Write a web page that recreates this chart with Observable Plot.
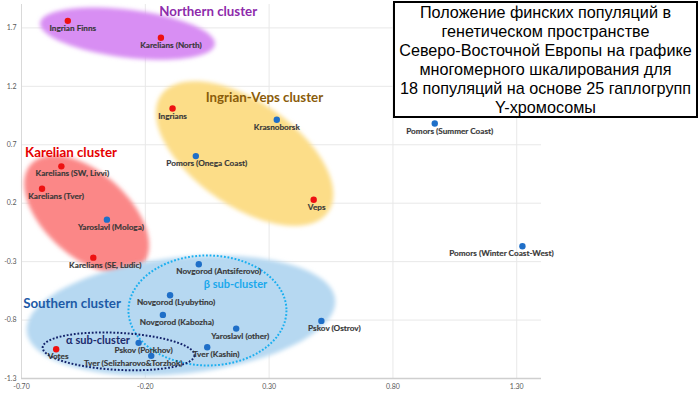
<!DOCTYPE html>
<html>
<head>
<meta charset="utf-8">
<script src="https://cdn.jsdelivr.net/npm/d3@7"></script>
<script src="https://cdn.jsdelivr.net/npm/@observablehq/plot@0.6"></script>
<style>
  body { margin: 0; background: #fff; }
  #wrap { position: relative; width: 700px; height: 394px; overflow: hidden; background: #fff; }
  #wrap svg { position: absolute; left: 0; top: 0; }
  #title {
    position: absolute; left: 393px; top: 1px; width: 301px; height: 113px;
    border: 2px solid #000; background: #fff;
    font-family: "Liberation Sans", Arial, sans-serif; font-size: 16.2px; line-height: 19px;
    text-align: center; color: #000;
    display: flex; align-items: center; justify-content: center;
  }
</style>
</head>
<body>
<div id="wrap">
  <div id="title"><div>Положение финских популяций в<br>генетическом пространстве<br>Северо-Восточной Европы на графике<br>многомерного шкалирования для<br>18 популяций на основе 25 гаплогрупп<br>Y-хромосомы</div></div>
</div>
<script>
// ---------- data ----------
const names = [
  "Ingrian Finns", "Karelians (North)", "Ingrians", "Krasnoborsk", "Pomors (Onega Coast)",
  "Veps", "Pomors (Summer Coast)", "Pomors (Winter Coast-West)", "Karelians (SW, Livvi)",
  "Karelians (Tver)", "Yaroslavl (Mologa)", "Karelians (SE, Ludic)", "Novgorod (Antsiferovo)",
  "Novgorod (Lyubytino)", "Novgorod (Kabozha)", "Yaroslavl (other)", "Tver (Kashin)",
  "Pskov (Porkhov)", "Tver (Selizharovo&Torzhok)", "Votes", "Pskov (Ostrov)"
];
const dim1 = [
  -0.513, -0.137, -0.090, 0.331, 0.004,
  0.480, 0.969, 1.323, -0.539,
  -0.617, -0.355, -0.410, 0.016,
  -0.100, -0.129, 0.167, 0.050,
  -0.227, -0.176, -0.560, 0.511
];
const dim2 = [
  1.760, 1.615, 1.010, 0.914, 0.603,
  0.230, 0.882, -0.169, 0.515,
  0.324, 0.059, -0.266, -0.323,
  -0.588, -0.756, -0.873, -1.032,
  -0.995, -1.106, -1.050, -0.807
];
const finnic = [
  true, true, true, false, false,
  true, false, false, true,
  true, false, true, false,
  false, false, false, false,
  false, false, true, false
];
const xTicks = [-0.7, -0.2, 0.3, 0.8, 1.3];
const yTicks = [-1.3, -0.8, -0.3, 0.2, 0.7, 1.2, 1.7];

const clusterNames = ["Northern cluster", "Ingrian-Veps cluster", "Karelian cluster", "Southern cluster", "β sub-cluster", "α sub-cluster"];
const clusterX = [0.054, 0.281, -0.500, -0.496, 0.164, -0.391];
const clusterY = [1.835, 1.104, 0.633, -0.658, -0.496, -0.975];

// ---------- layout / annotation styling ----------
const W = 700, H = 394, ML = 21, MR = 159, MT = 4, MB = 16;
const xDom = [-0.7, 1.4], yDom = [-1.3, 1.9];
const kx = (W - ML - MR) / (xDom[1] - xDom[0]);
const ky = (H - MT - MB) / (yDom[1] - yDom[0]);

// label nudges (px) to mimic hand-placed labels
const labelNudge = [5, 10, 0, 0, 11, 3, 15, -21, 11, 14, 4, 12, 20, 6, 14, 4, 9, 5, -18, 2, 13];
const clusterColor = ["#8e2bab", "#8a5c0a", "#e60000", "#1d5aa6", "#1aa8ec", "#1c2a6b"];
const clusterSize = [13.3, 13.3, 13.3, 13.3, 11, 11];

// cluster shapes: centre in data units, semi-axes in px, tilt in degrees
const blobs = [
  {cx: -0.272, cy: 1.651, a: 88, b: 24, angle: 7, fill: "#d88ef3"},
  {cx: 0.201, cy: 0.625, a: 102, b: 52, angle: 35, fill: "#fcdd88"},
  {cx: -0.437, cy: 0.103, a: 75, b: 42, angle: 42, fill: "#fb8787"},
  {cx: -0.056, cy: -0.761, a: 155, b: 58, angle: -6, fill: "#b6d8f1"}
];
const outlines = [
  {cx: 0.051, cy: -0.718, a: 79, b: 55, angle: 0, stroke: "#1aaff0"},
  {cx: -0.308, cy: -1.068, a: 76, b: 18.5, angle: 3, stroke: "#13226a"}
];
function ellipse(e) {
  const th = e.angle * Math.PI / 180, pts = [];
  for (let i = 0; i <= 160; i++) {
    const t = i / 160 * 2 * Math.PI;
    const px = e.a * Math.cos(t) * Math.cos(th) - e.b * Math.sin(t) * Math.sin(th);
    const py = e.a * Math.cos(t) * Math.sin(th) + e.b * Math.sin(t) * Math.cos(th);
    pts.push({x: e.cx + px / kx, y: e.cy - py / ky});
  }
  return pts;
}

const points = names.map((n, i) => ({name: n, x: dim1[i], y: dim2[i], finnic: finnic[i], nudge: labelNudge[i]}));
const clusters = clusterNames.map((n, i) => ({name: n, x: clusterX[i], y: clusterY[i], i}));

const chart = Plot.plot({
  width: W, height: H,
  marginLeft: ML, marginRight: MR, marginTop: MT, marginBottom: MB,
  style: {fontFamily: "Lato, sans-serif", fontSize: "7px", color: "#595959", background: "transparent", overflow: "visible"},
  x: {domain: xDom, ticks: xTicks, tickFormat: d => d.toFixed(2), tickSize: 0, tickPadding: 6, label: null},
  y: {domain: yDom, ticks: yTicks, tickFormat: d => d.toFixed(1), tickSize: 0, tickPadding: 5, label: null},
  marks: [
    Plot.ruleY(yTicks, {stroke: "#e8e8e8"}),
    Plot.ruleX(xTicks, {stroke: "#e8e8e8"}),
    Plot.ruleX([xDom[0]], {stroke: "#d9d9d9"}),
    Plot.ruleY([yDom[0]], {stroke: "#cfcfcf", strokeWidth: 1.5}),
    ...blobs.map(b => Plot.line(ellipse(b), {x: "x", y: "y", fill: b.fill, stroke: "none"})),
    ...outlines.map(o => Plot.line(ellipse(o), {x: "x", y: "y", stroke: o.stroke, strokeWidth: 2, strokeDasharray: "1.8,1.8", strokeLinecap: "butt"})),
    ...clusters.map(c => Plot.text([c], {x: "x", y: "y", text: "name", fill: clusterColor[c.i], fontSize: clusterSize[c.i], fontWeight: 700, fontFamily: "Lato, sans-serif"})),
    Plot.dot(points.filter(d => d.finnic), {x: "x", y: "y", r: 3.2, fill: "#ee1111"}),
    Plot.dot(points.filter(d => !d.finnic), {x: "x", y: "y", r: 3.2, fill: "#1f6fc8"}),
    Plot.text(points, {x: d => d.x + d.nudge / kx, y: "y", text: "name", dy: 7.5, fill: "#383838", stroke: "#383838", strokeWidth: 0.15, fontSize: 8.2, fontWeight: 700, fontFamily: "Lato, sans-serif"})
  ]
});

// soften the cluster blobs
const ns = "http://www.w3.org/2000/svg";
const defs = document.createElementNS(ns, "defs");
const filt = document.createElementNS(ns, "filter");
filt.setAttribute("id", "soft");
filt.setAttribute("x", "-20%"); filt.setAttribute("y", "-20%");
filt.setAttribute("width", "140%"); filt.setAttribute("height", "140%");
const blur = document.createElementNS(ns, "feGaussianBlur");
blur.setAttribute("stdDeviation", "2.2");
filt.appendChild(blur); defs.appendChild(filt);
chart.insertBefore(defs, chart.firstChild);
chart.querySelectorAll('g[aria-label="line"]').forEach(g => {
  const f = g.getAttribute("fill");
  if (f && f !== "none") g.setAttribute("filter", "url(#soft)");
});

const wrap = document.getElementById("wrap");
wrap.insertBefore(chart, wrap.firstChild);
</script>
</body>
</html>
